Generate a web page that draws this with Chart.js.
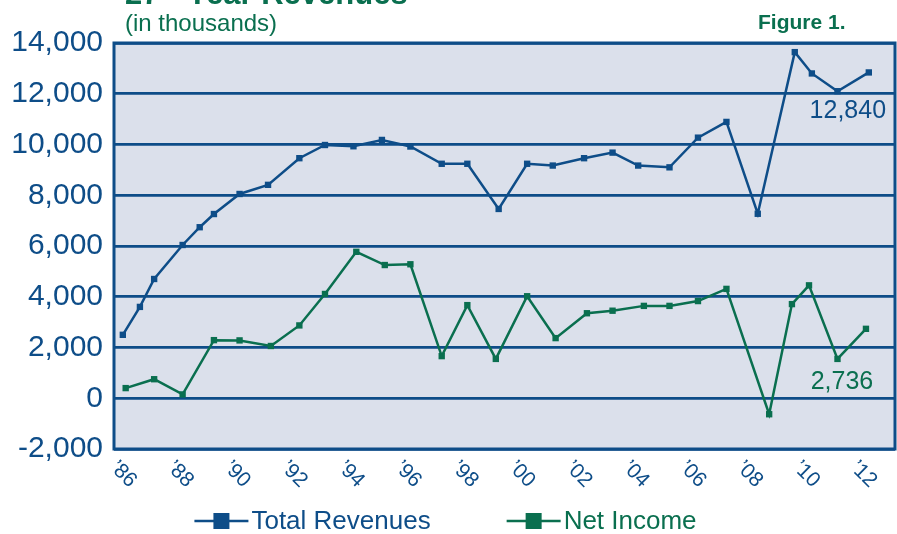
<!DOCTYPE html>
<html>
<head>
<meta charset="utf-8">
<script src="https://cdn.jsdelivr.net/npm/chart.js@4"></script>
<style>
  html, body { margin: 0; padding: 0; background: #fff; }
  canvas { display: block; }
</style>
</head>
<body>
<canvas id="revChart" width="897" height="534"></canvas>
<script>
const titleText = '27 - Year Revenues';
const subtitleText = '(in thousands)';
const figureText = 'Figure 1.';

// revenue has a couple of extra mid-year readings, so x is in (fractional) years
const revenueYears = [1985.9, 1986.5, 1987, 1988, 1988.6, 1989.1, 1990, 1991, 1992.1, 1993, 1994, 1995, 1996, 1997.1, 1998,
  1999.1, 2000.1, 2001, 2002.1, 2003.1, 2004, 2005.1, 2006.1, 2007.1, 2008.2, 2009.5, 2010.1, 2011, 2012.1];
const revenueValues = [2500, 3600, 4700, 6040, 6740, 7260, 8050, 8410, 9460, 9980, 9930, 10180, 9920, 9240, 9240,
  7460, 9240, 9170, 9460, 9680, 9170, 9100, 10270, 10890, 7270, 13640, 12800, 12100, 12840];

const incomeYears = [1986, 1987, 1988, 1989.1, 1990, 1991.1, 1992.1, 1993, 1994.1, 1995.1, 1996, 1997.1, 1998, 1999,
  2000.1, 2001.1, 2002.2, 2003.1, 2004.2, 2005.1, 2006.1, 2007.1, 2008.6, 2009.4, 2010, 2011, 2012];
const incomeValues = [400, 750, 150, 2290, 2280, 2060, 2870, 4110, 5770, 5250, 5280, 1660, 3670, 1550,
  4020, 2370, 3350, 3450, 3640, 3640, 3830, 4310, -630, 3710, 4450, 1550, 2736];

const tickYears = [1986, 1988, 1990, 1992, 1994, 1996, 1998, 2000, 2002, 2004, 2006, 2008, 2010, 2012];

const NAVY = '#0e4d88';
const GREEN = '#0a6f4f';
const PLOT_BG = '#dbe0eb';
const FONT = '"Liberation Sans", Arial, sans-serif';

function toPoints(xs, ys) {
  const out = [];
  for (let i = 0; i < xs.length; i++) {
    out.push({x: xs[i], y: ys[i]});
  }
  return out;
}

const decor = {
  id: 'decor',
  beforeDraw(chart) {
    const {ctx, chartArea: a} = chart;
    ctx.save();
    ctx.fillStyle = PLOT_BG;
    ctx.fillRect(a.left, a.top, a.right - a.left, a.bottom - a.top);
    ctx.restore();
  },
  beforeDatasetsDraw(chart) {
    const {ctx, chartArea: a} = chart;
    ctx.save();
    ctx.strokeStyle = NAVY;
    ctx.lineWidth = 3;
    ctx.strokeRect(a.left, a.top, a.right - a.left, a.bottom - a.top);
    ctx.restore();
  },
  afterDraw(chart) {
    const {ctx, chartArea: a} = chart;
    const xs = chart.scales.x;
    ctx.save();

    // headings
    ctx.fillStyle = GREEN;
    ctx.textAlign = 'left';
    ctx.textBaseline = 'alphabetic';
    ctx.font = 'bold 31px ' + FONT;
    ctx.fillText(titleText, 125, 4);
    ctx.font = '24px ' + FONT;
    ctx.fillText(subtitleText, 125, 31);
    ctx.font = 'bold 21px ' + FONT;
    ctx.fillText(figureText, 758, 29);

    // slanted year labels
    ctx.fillStyle = NAVY;
    ctx.font = '21px ' + FONT;
    ctx.textBaseline = 'top';
    for (const yr of tickYears) {
      const px = xs.getPixelForValue(yr);
      ctx.save();
      ctx.translate(px - 5, a.bottom + 8);
      ctx.rotate(45 * Math.PI / 180);
      ctx.fillText('\u2019' + String(yr).slice(2), 0, 0);
      ctx.restore();
    }

    // last value callouts
    ctx.textAlign = 'center';
    ctx.textBaseline = 'alphabetic';
    ctx.font = '25px ' + FONT;
    const revPts = chart.getDatasetMeta(0).data;
    const lastRev = revPts[revPts.length - 1];
    ctx.fillStyle = NAVY;
    ctx.fillText(revenueValues[revenueValues.length - 1].toLocaleString('en-US'), lastRev.x - 21, lastRev.y + 46);
    const incPts = chart.getDatasetMeta(1).data;
    const lastInc = incPts[incPts.length - 1];
    ctx.fillStyle = GREEN;
    ctx.fillText(incomeValues[incomeValues.length - 1].toLocaleString('en-US'), lastInc.x - 24, lastInc.y + 60);

    // legend
    ctx.font = '26px ' + FONT;
    ctx.textAlign = 'left';
    ctx.textBaseline = 'middle';
    const ly = 521;
    const symW = 54;
    const gap = 76;
    const items = chart.data.datasets.map(ds => ({label: ds.label, color: ds.borderColor, w: symW + 3 + ctx.measureText(ds.label).width}));
    let lx = (chart.width - items.reduce((s, it) => s + it.w, 0) - gap * (items.length - 1)) / 2 - 3;
    for (const it of items) {
      ctx.strokeStyle = it.color;
      ctx.fillStyle = it.color;
      ctx.lineWidth = 2.5;
      ctx.beginPath();
      ctx.moveTo(lx, ly);
      ctx.lineTo(lx + symW, ly);
      ctx.stroke();
      ctx.fillRect(lx + symW / 2 - 8, ly - 8, 16, 16);
      ctx.fillText(it.label, lx + symW + 3, ly + 1);
      lx += it.w + gap;
    }
    ctx.restore();
  }
};

new Chart(document.getElementById('revChart'), {
  type: 'line',
  data: {
    datasets: [
      {
        label: 'Total Revenues',
        data: toPoints(revenueYears, revenueValues),
        borderColor: NAVY,
        backgroundColor: NAVY,
        borderWidth: 2.5,
        pointStyle: 'rect',
        pointRadius: 4.5,
        pointBorderWidth: 0,
        tension: 0,
      },
      {
        label: 'Net Income',
        data: toPoints(incomeYears, incomeValues),
        borderColor: GREEN,
        backgroundColor: GREEN,
        borderWidth: 2.5,
        pointStyle: 'rect',
        pointRadius: 4.5,
        pointBorderWidth: 0,
        tension: 0,
      },
    ],
  },
  options: {
    responsive: false,
    animation: false,
    devicePixelRatio: 1,
    layout: {autoPadding: false, padding: {top: 43, right: 2, left: 0, bottom: 0}},
    plugins: {
      legend: {display: false},
      title: {display: false},
      tooltip: {enabled: false},
    },
    scales: {
      x: {
        type: 'linear',
        min: 1985.59,
        max: 2013.02,
        grid: {display: false},
        border: {display: false},
        ticks: {display: false},
        afterFit(scale) { scale.height = 85; },
      },
      y: {
        min: -2000,
        max: 14000,
        grid: {color: NAVY, lineWidth: 2.8, drawTicks: false},
        border: {display: false},
        ticks: {
          stepSize: 2000,
          padding: 11,
          color: NAVY,
          font: {family: FONT, size: 30},
          callback: v => v.toLocaleString('en-US'),
        },
        afterFit(scale) { scale.width = 114; },
      },
    },
  },
  plugins: [decor],
});
</script>
</body>
</html>
